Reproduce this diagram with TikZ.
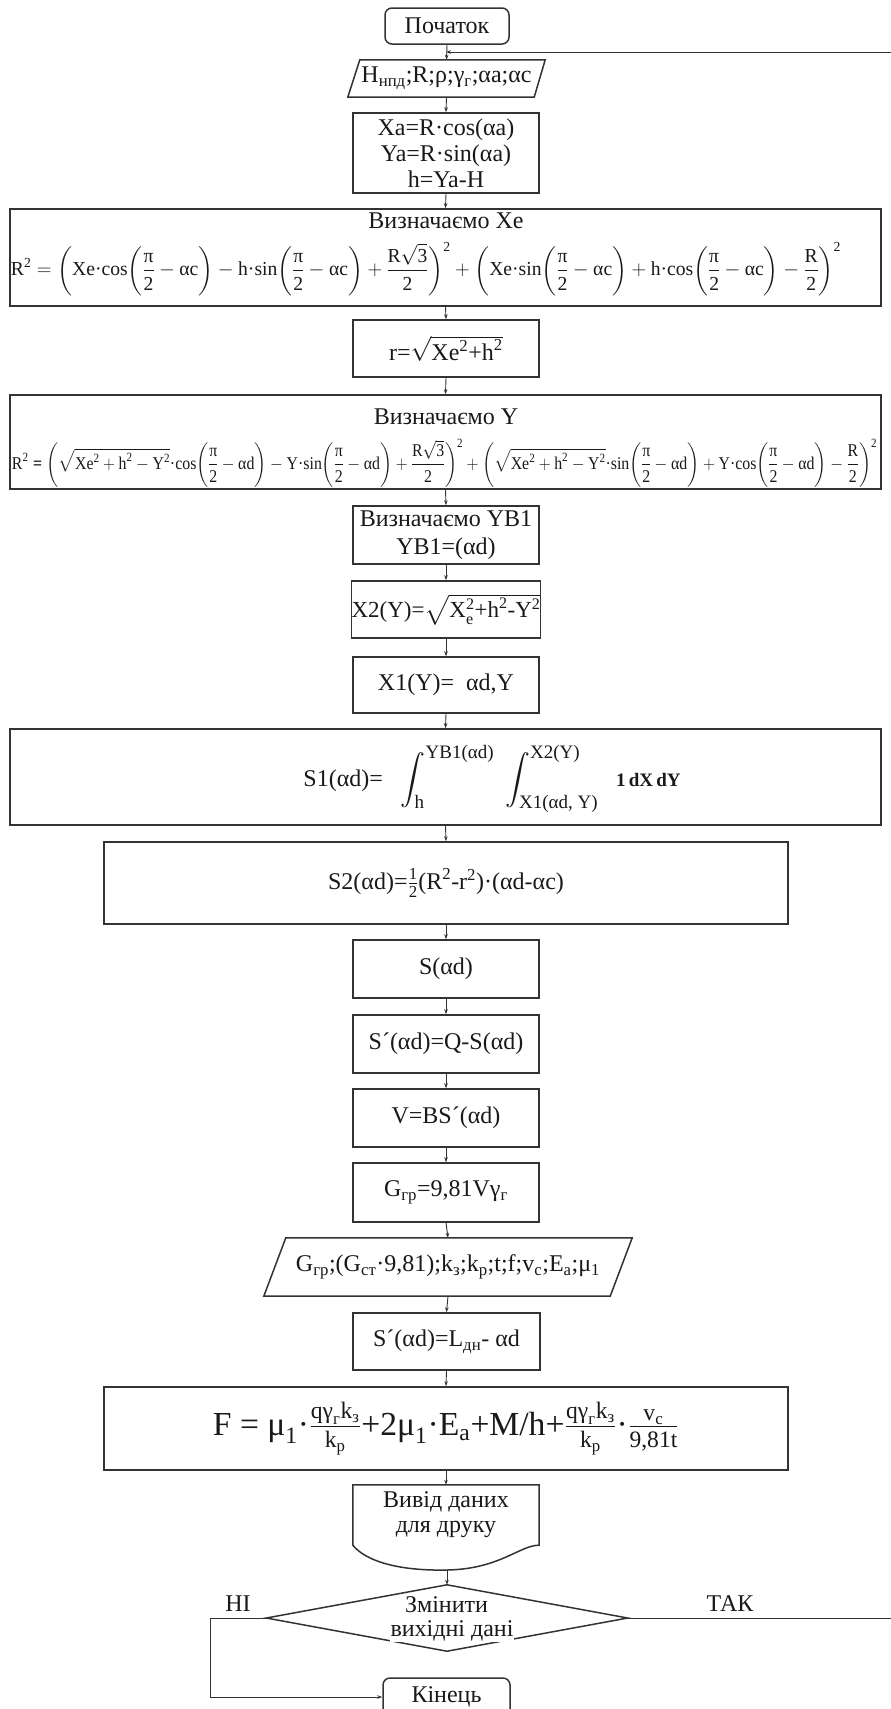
\documentclass[tikz,border=0pt]{standalone}
\usepackage{amsmath}
\usepackage{graphicx}
\usepackage{fontspec}
\setmainfont{Liberation Serif}
\usetikzlibrary{arrows.meta}
\newcommand{\tx}[1]{\text{#1}}
\newcommand{\limtx}[1]{\text{\fontsize{19}{20}\selectfont #1}}
\newcommand{\pihalf}{\frac{\tx{π}}{\tx{2}}}
\newcommand{\rootY}{\sqrt{\tx{Xe}^{\tx{2}}+\tx{h}^{\tx{2}}-\tx{Y}^{\tx{2}}}}
\begin{document}
\begin{tikzpicture}[x=1pt,y=-1pt,
  every node/.style={text=black!90},
  box/.style={draw=black!80,line width=1.5pt,rectangle,inner sep=0pt,align=center,font=\fontsize{24}{26}\selectfont},
  term/.style={box,rounded corners=7pt},
  plain/.style={inner sep=0pt,align=center,font=\fontsize{24}{26}\selectfont},
  outline/.style={draw=black!80,line width=1.5pt,line join=miter},
  conn/.style={draw=black!80,line width=0.9pt,-{Stealth[length=5pt,width=3.5pt]}},
  cut/.style={plain,fill=white,inner sep=1pt}]
\useasboundingbox (0,0) rectangle (891,1709);
\clip (0,0) rectangle (891,1709);
\fill[white] (0,0) rectangle (891,1709);

% ---------- nodes ----------
\node[term,minimum width=124pt,minimum height=36pt] (start) at (447,26) {Початок};

\node[plain,minimum width=197pt,minimum height=37pt] (in1) at (446.5,78.5)
  {H\textsubscript{нпд};R;ρ;γ\textsubscript{г};αa;αc};
\draw[outline] ([xshift=12pt]in1.north west) -- (in1.north east)
  -- ([xshift=-11pt]in1.south east) -- (in1.south west) -- cycle;

\node[box,minimum width=186pt,minimum height=80pt] (calc1) at (446,153)
  {Xa=R·cos(αa)\\Ya=R·sin(αa)\\h=Ya-H};

\node[box,minimum width=871pt,minimum height=97pt] (xe) at (445.5,257.5) {};
\node[plain] (xet) at (446,221) {Визначаємо Xe};
\node[plain] (xef) at (426,269) {\resizebox*{830pt}{53pt}{$\displaystyle
  \tx{R}^{\tx{2}} = \biggl(\tx{Xe·cos}\biggl(\pihalf-\tx{αc}\biggr)-\tx{h·sin}\biggl(\pihalf-\tx{αc}\biggr)+\frac{\tx{R}\sqrt{\tx{3}}}{\tx{2}}\biggr)^{\tx{2}}
  +\biggl(\tx{Xe·sin}\biggl(\pihalf-\tx{αc}\biggr)+\tx{h·cos}\biggl(\pihalf-\tx{αc}\biggr)-\frac{\tx{R}}{\tx{2}}\biggr)^{\tx{2}}$}};

\node[box,minimum width=186pt,minimum height=57pt] (r) at (446,348.5)
  {$\tx{r=}\sqrt{\tx{Xe}^{\tx{2}}\tx{+h}^{\tx{2}}}$};

\node[box,minimum width=871pt,minimum height=94pt] (yb) at (445.5,442) {};
\node[plain] (ybt) at (446,417) {Визначаємо Y};
\node[plain] (ybf) at (444.5,463) {\resizebox*{865pt}{48pt}{$\displaystyle
  \tx{R}^{\tx{2}}\;\tx{\bfseries =}\;\biggl(\rootY\tx{·cos}\biggl(\pihalf-\tx{αd}\biggr)-\tx{Y·sin}\biggl(\pihalf-\tx{αd}\biggr)+\frac{\tx{R}\sqrt{\tx{3}}}{\tx{2}}\biggr)^{\tx{2}}
  +\biggl(\rootY\tx{·sin}\biggl(\pihalf-\tx{αd}\biggr)+\tx{Y·cos}\biggl(\pihalf-\tx{αd}\biggr)-\frac{\tx{R}}{\tx{2}}\biggr)^{\tx{2}}$}};

\node[box,minimum width=186pt,minimum height=58pt,font=\fontsize{24}{28}\selectfont] (yb1) at (446,535)
  {Визначаємо YB1\\YB1=(αd)};

\node[box,minimum width=186pt,minimum height=57pt,font=\fontsize{23}{26}\selectfont] (x2) at (446,609.5)
  {$\tx{X2(Y)=}\sqrt{\tx{X}^{\tx{2}}_{\tx{e}}\tx{+h}^{\tx{2}}\tx{-Y}^{\tx{2}}}$};

\node[box,minimum width=186pt,minimum height=56pt] (x1) at (446,685)
  {X1(Y)=\enspace αd,Y};

\node[box,minimum width=871pt,minimum height=96pt] (s1) at (445.5,777) {};
\node[plain] (s1f) at (492,779) {$\tx{S1(αd)=}\;\;\displaystyle\int_{\limtx{h}}^{\limtx{YB1(αd)}}\;\int_{\limtx{X1(αd, Y)}}^{\limtx{X2(Y)}}\;\;\tx{\fontsize{19}{20}\selectfont\bfseries 1\,dX\,dY}$};

\node[box,minimum width=684pt,minimum height=82pt] (s2) at (446,883)
  {$\tx{S2(αd)=}\tfrac{\tx{1}}{\tx{2}}\tx{(R}^{\tx{2}}\tx{-r}^{\tx{2}}\tx{)·(αd-αc)}$};

\node[box,minimum width=186pt,minimum height=58pt] (s) at (446,969) {S(αd)};
\node[box,minimum width=186pt,minimum height=58pt] (sp) at (446,1044) {S´(αd)=Q-S(αd)};
\node[box,minimum width=186pt,minimum height=58pt] (v) at (446,1118) {V=BS´(αd)};
\node[box,minimum width=186pt,minimum height=59pt] (g) at (446,1192.5)
  {G\textsubscript{гр}=9,81Vγ\textsubscript{г}};

\node[plain,minimum width=368pt,minimum height=58pt] (in2) at (448,1267)
  {G\textsubscript{гр};(G\textsubscript{ст}·9,81);k\textsubscript{з};k\textsubscript{р};t;f;v\textsubscript{с};E\textsubscript{а};μ\textsubscript{1}};
\draw[outline] ([xshift=22pt]in2.north west) -- (in2.north east)
  -- ([xshift=-22pt]in2.south east) -- (in2.south west) -- cycle;

\node[box,minimum width=187pt,minimum height=57pt] (spl) at (446.5,1341.5)
  {S´(αd)=L\textsubscript{дн}- αd};

\node[box,minimum width=684pt,minimum height=83pt] (f) at (446,1428.5)
  {\resizebox{466pt}{!}{$\tx{F = μ}_{\tx{1}}\tx{·}\frac{\tx{qγ}_{\tx{г}}\tx{k}_{\tx{з}}}{\tx{k}_{\tx{р}}}\tx{+2μ}_{\tx{1}}\tx{·E}_{\tx{а}}\tx{+M/h+}\frac{\tx{qγ}_{\tx{г}}\tx{k}_{\tx{з}}}{\tx{k}_{\tx{р}}}\tx{·}\frac{\tx{v}_{\tx{с}}}{\tx{9,81t}}$}};

\node[plain,minimum width=186pt,minimum height=60pt,font=\fontsize{24}{25}\selectfont] (doc) at (446,1515)
  {Вивід даних\\для друку};
\coordinate (docb) at (447,1570);
\draw[outline] (doc.south west) -- (doc.north west) -- (doc.north east) -- (doc.south east)
  .. controls (520,1545) and (500,1569) .. (docb)
  .. controls (395,1571) and (365,1560) .. (doc.south west) -- cycle;

\node[minimum width=361pt,minimum height=66pt,inner sep=0pt] (dec) at (447,1618) {};
\draw[outline] (dec.north) -- (dec.east) -- (dec.south) -- (dec.west) -- cycle;
\node[cut] (dect1) at (446.5,1605) {Змінити};
\node[cut] (dect2) at (452,1631) {вихідні дані};

\node[term,minimum width=127pt,minimum height=38pt] (end) at (446.5,1697) {Кінець};

\node[plain] (ni) at (238,1604) {НІ};
\node[plain] (tak) at (730,1604) {ТАК};

% ---------- connectors ----------
\coordinate (join) at (446,52);
\coordinate (looptop) at (905,52);
\coordinate (nicorner) at (210,1618);

\draw[conn] (start.south) -- (in1.north);
\draw[conn] (in1.south) -- (calc1.north);
\draw[conn] (calc1.south) -- (xe.north);
\draw[conn] (xe.south) -- (r.north);
\draw[conn] (r.south) -- (yb.north);
\draw[conn] (yb.south) -- (yb1.north);
\draw[conn] (yb1.south) -- (x2.north);
\draw[conn] (x2.south) -- (x1.north);
\draw[conn] (x1.south) -- (s1.north);
\draw[conn] (s1.south) -- (s2.north);
\draw[conn] (s2.south) -- (s.north);
\draw[conn] (s.south) -- (sp.north);
\draw[conn] (sp.south) -- (v.north);
\draw[conn] (v.south) -- (g.north);
\draw[conn] (g.south) -- (in2.north);
\draw[conn] (in2.south) -- (spl.north);
\draw[conn] (spl.south) -- (f.north);
\draw[conn] (f.south) -- (doc.north);
\draw[conn] (docb) -- (dec.north);
\draw[conn] (dec.east) -- (dec.east -| looptop) -- (looptop) -- (join);
\draw[conn] (dec.west) -- (nicorner) |- (end.west);
\end{tikzpicture}
\end{document}
